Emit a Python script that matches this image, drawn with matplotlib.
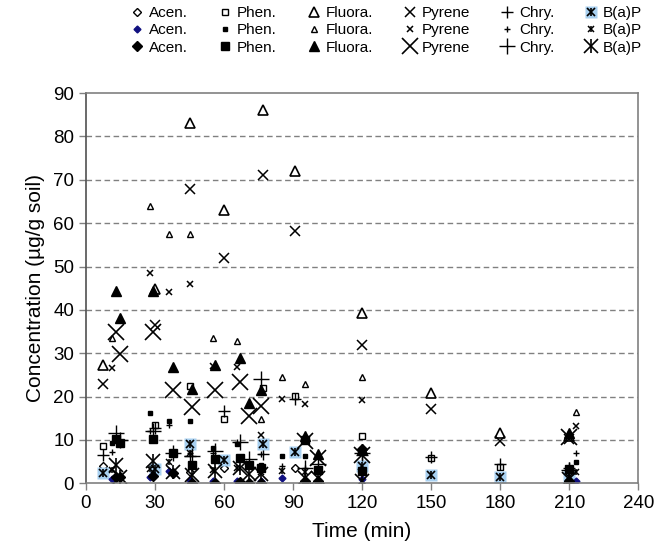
import numpy as np
import matplotlib.pyplot as plt
from matplotlib.legend_handler import HandlerTuple

plt.rcParams['font.family'] = ['Liberation Sans', 'DejaVu Sans']

# three runs: A (open / medium markers), B (small markers), C (large filled markers)
t_A = [7.5, 30, 45, 60, 77, 91, 120, 150, 180, 210]
acen_A = [4.0, 3.2, 2.5, 3.6, 9.5, 3.5, 4.0, 2.0, 1.5, 1.5]
phen_A = [8.5, 13.4, 22.5, 14.9, 22.0, 20.2, 10.9, 5.8, 3.8, 3.2]
fluo_A = [27.3, 44.8, 83.2, 63.0, 86.0, 72.0, 39.2, 20.9, 11.5, 11.0]
pyr_A = [22.8, 36.4, 67.9, 51.9, 71.0, 58.1, 32.0, 17.2, 9.7, 10.2]
chry_A = [6.5, 12.8, 6.3, 16.7, 6.7, 19.4, 6.5, 6.0, 4.4, 3.5]
bap_A = [2.3, 3.2, 9.0, 5.4, 9.0, 7.2, 4.0, 2.0, 1.4, 1.4]

t_B = [11.5, 28, 36, 45, 55, 65.5, 76, 85, 95, 120, 213]
acen_B = [1.0, 1.5, 2.8, 0.8, 0.5, 0.5, 0.5, 1.3, 0.5, 1.0, 0.6]
phen_B = [9.2, 16.2, 14.4, 14.4, 8.2, 9.0, 4.2, 6.3, 6.3, 2.8, 4.8]
fluo_B = [33.5, 63.9, 57.6, 57.6, 33.5, 32.9, 14.8, 24.6, 22.9, 24.6, 16.4]
pyr_B = [26.6, 48.4, 44.2, 46.0, 27.0, 26.8, 11.1, 19.4, 18.2, 19.2, 13.1]
chry_B = [7.1, 12.0, 13.4, 6.9, 7.0, 9.5, 6.7, 4.0, 3.6, 7.0, 6.9]
bap_B = [3.0, 3.2, 4.8, 6.9, 3.0, 3.5, 2.5, 2.8, 2.5, 2.8, 2.5]

t_C = [13, 15, 29, 38, 46, 56, 67, 71, 76, 95, 101, 120, 210]
acen_C = [1.5, 1.4, 1.7, 2.3, 0.0, 0.0, 0.3, 0.0, 0.0, 0.5, 0.5, 7.8, 0.6]
phen_C = [10.2, 9.2, 10.3, 6.9, 4.2, 5.7, 5.9, 4.2, 3.5, 10.0, 3.1, 2.8, 3.3]
fluo_C = [44.3, 38.2, 44.3, 26.9, 21.8, 27.2, 28.9, 18.5, 21.4, 10.8, 6.7, 7.8, 11.5]
pyr_C = [35.0, 29.7, 34.8, 21.4, 17.5, 21.4, 23.3, 15.5, 17.8, 9.8, 5.9, 6.5, 10.6]
chry_C = [11.7, 10.0, 12.0, 6.9, 6.3, 7.5, 9.5, 5.5, 24.1, 3.6, 4.5, 7.0, 3.0]
bap_C = [4.2, 1.5, 5.2, 2.5, 1.8, 2.8, 3.6, 2.1, 2.1, 1.3, 1.3, 0.5, 1.0]

names = ['Acen.', 'Phen.', 'Fluora.', 'Pyrene', 'Chry.', 'B(a)P']

fig = plt.figure(figsize=(6.56, 5.51), dpi=100)
ax = fig.add_axes([0.131, 0.123, 0.842, 0.708])

k = dict(linestyle='none', color='black')
blue_bg = '#a8d0f0'

# run A
hA = []
hA.append(ax.plot(t_A, acen_A, marker='D', ms=4.5, mfc='white', mew=1.0, **k)[0])
hA.append(ax.plot(t_A, phen_A, marker='s', ms=5, mfc='white', mew=1.0, **k)[0])
hA.append(ax.plot(t_A, fluo_A, marker='^', ms=6.5, mfc='white', mew=1.2, **k)[0])
hA.append(ax.plot(t_A, pyr_A, marker='x', ms=6.5, mew=1.1, **k)[0])
hA.append(ax.plot(t_A, chry_A, marker='+', ms=8, mew=1.0, **k)[0])
b1 = ax.plot(t_A, bap_A, marker='s', ms=8, color=blue_bg, mec='none', linestyle='none')[0]
b2 = ax.plot(t_A, bap_A, marker='x', ms=6, mew=1.2, **k)[0]
b3 = ax.plot(t_A, bap_A, marker='|', ms=6, mew=1.2, **k)[0]
hA.append((b1, b2, b3))

# run B
hB = []
hB.append(ax.plot(t_B, acen_B, marker='D', ms=3.5, color='#101080', linestyle='none')[0])
hB.append(ax.plot(t_B, phen_B, marker='s', ms=3.5, **k)[0])
hB.append(ax.plot(t_B, fluo_B, marker='^', ms=4.5, mfc='white', mew=1.0, **k)[0])
hB.append(ax.plot(t_B, pyr_B, marker='x', ms=4, mew=1.1, **k)[0])
hB.append(ax.plot(t_B, chry_B, marker='+', ms=5, mew=1.0, **k)[0])
c2 = ax.plot(t_B, bap_B, marker='x', ms=4, mew=1.1, **k)[0]
c3 = ax.plot(t_B, bap_B, marker='|', ms=4, mew=1.1, **k)[0]
hB.append((c2, c3))

# run C
hC = []
hC.append(ax.plot(t_C, acen_C, marker='D', ms=5.5, **k)[0])
hC.append(ax.plot(t_C, phen_C, marker='s', ms=6, **k)[0])
hC.append(ax.plot(t_C, fluo_C, marker='^', ms=7.5, **k)[0])
hC.append(ax.plot(t_C, pyr_C, marker='x', ms=11, mew=1.2, **k)[0])
hC.append(ax.plot(t_C, chry_C, marker='+', ms=12, mew=1.0, **k)[0])
d2 = ax.plot(t_C, bap_C, marker='x', ms=10, mew=1.2, **k)[0]
d3 = ax.plot(t_C, bap_C, marker='|', ms=10, mew=1.2, **k)[0]
hC.append((d2, d3))

ax.set_xlim(0, 240)
ax.set_ylim(0, 90)
ax.set_xticks(range(0, 241, 30))
ax.set_yticks(range(0, 91, 10))
for yv in range(10, 90, 10):
    ax.axhline(yv, color='#808080', lw=1.0, ls=(0, (4, 2.5)), zorder=0)
for s in ax.spines.values():
    s.set_color('#808080')
    s.set_linewidth(1.2)
ax.spines['left'].set_color('#505050')
ax.tick_params(axis='both', labelsize=13.5, length=5, color='#808080', width=1.0)
ax.set_xlabel('Time (min)', fontsize=15, labelpad=7)
ax.set_ylabel('Concentration (µg/g soil)', fontsize=15, labelpad=6)

handles, labels = [], []
for i in range(6):
    for h in (hA[i], hB[i], hC[i]):
        handles.append(h)
        labels.append(names[i])
fig.legend(handles, labels, ncol=6, loc='upper left', bbox_to_anchor=(0.185, 1.005),
           frameon=False, fontsize=11, handlelength=0.9, handletextpad=0.3,
           columnspacing=2.0, labelspacing=0.2, borderaxespad=0.2,
           handler_map={tuple: HandlerTuple(ndivide=1)})

fig.savefig('out.png', dpi=100)
